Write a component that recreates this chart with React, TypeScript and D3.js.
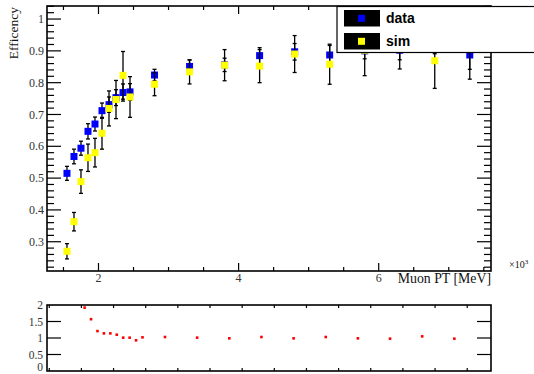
import React from 'react';
import * as d3 from 'd3';

// Bin centres (MeV)
const ptBins = [1550, 1650, 1750, 1850, 1950, 2050, 2150, 2250, 2350, 2450, 2800, 3300, 3800, 4300, 4800, 5300, 5800, 6300, 6800, 7300];
// data efficiency
const dataEff = [0.515, 0.568, 0.594, 0.647, 0.670, 0.712, 0.731, 0.753, 0.769, 0.771, 0.824, 0.851, 0.856, 0.885, 0.897, 0.887, 0.900, 0.902, 0.921, 0.887];
const dataErr = [0.022, 0.023, 0.022, 0.024, 0.022, 0.024, 0.024, 0.025, 0.027, 0.026, 0.018, 0.020, 0.021, 0.025, 0.026, 0.030, 0.025, 0.030, 0.030, 0.045];
// sim efficiency
const simEff = [0.270, 0.363, 0.489, 0.564, 0.580, 0.641, 0.719, 0.747, 0.823, 0.755, 0.795, 0.834, 0.855, 0.852, 0.890, 0.858, 0.902, 0.920, 0.869, 0.905];
const simErr = [0.024, 0.029, 0.037, 0.043, 0.045, 0.050, 0.055, 0.060, 0.075, 0.064, 0.036, 0.038, 0.049, 0.052, 0.058, 0.063, 0.080, 0.077, 0.087, 0.094];
// ratio data/sim
const ratio = [1.92, 1.57, 1.21, 1.14, 1.14, 1.10, 1.01, 1.01, 0.93, 1.02, 1.03, 1.01, 0.99, 1.03, 0.99, 1.03, 0.99, 0.98, 1.05, 0.98];

const yMajor = [0.3, 0.4, 0.5, 0.6, 0.7, 0.8, 0.9, 1.0];
const yLabels = ['0.3', '0.4', '0.5', '0.6', '0.7', '0.8', '0.9', '1'];
const xMajor = [2000, 4000, 6000];
const xLabels = ['2', '4', '6'];
const ratioYMajor = [0, 0.5, 1, 1.5, 2];
const ratioYLabels = ['0', '0.5', '1', '1.5', '2'];

const SERIF = '"Liberation Serif", "DejaVu Serif", serif';
const SANS = '"Liberation Sans", Arial, sans-serif';

export default function App() {
  const x = d3.scaleLinear().domain([1265, 7603]).range([47, 491]);
  const y = d3.scaleLinear().domain([0.208, 1.041]).range([271, 6]);
  const rx = d3.scaleLinear().domain([965, 7870]).range([47, 491]);
  const ry = d3.scaleLinear().domain([0, 2]).range([371, 305]);

  const yMinor = d3.range(11, 53).map((i) => i * 0.02).filter((v) => Math.abs(v * 10 - Math.round(v * 10)) > 1e-6);
  const xMinor = d3.range(3, 16).map((i) => i * 500).filter((v) => v % 2000 !== 0);
  const rxTicks = d3.range(2, 16).map((i) => i * 500);

  const [x0, x1] = x.range();
  const [yb, yt] = y.range();
  const [rx0, rx1] = rx.range();
  const [ryb, ryt] = ry.range();

  const series = [
    { eff: dataEff, err: dataErr, color: '#0000ff' },
    { eff: simEff, err: simErr, color: '#ffff00' },
  ];
  const ms = 7;

  return (
    <svg width={534} height={374} style={{ position: 'absolute', left: 0, top: 0, background: '#fff' }}>
      <rect x={0} y={0} width={534} height={374} fill="#fff" />
      {/* main ticks */}
      <g stroke="#000" strokeWidth={1.2}>
        {yMajor.map((v) => (
          <g key={'ym' + v}>
            <line x1={x0} x2={x0 + 14} y1={y(v)} y2={y(v)} />
            <line x1={x1} x2={x1 - 14} y1={y(v)} y2={y(v)} />
          </g>
        ))}
        {yMinor.map((v) => (
          <g key={'yn' + v}>
            <line x1={x0} x2={x0 + 7} y1={y(v)} y2={y(v)} />
            <line x1={x1} x2={x1 - 7} y1={y(v)} y2={y(v)} />
          </g>
        ))}
        {xMajor.map((v) => (
          <g key={'xm' + v}>
            <line x1={x(v)} x2={x(v)} y1={yb} y2={yb - 8} />
            <line x1={x(v)} x2={x(v)} y1={yt} y2={yt + 8} />
          </g>
        ))}
        {xMinor.map((v) => (
          <g key={'xn' + v}>
            <line x1={x(v)} x2={x(v)} y1={yb} y2={yb - 4} />
            <line x1={x(v)} x2={x(v)} y1={yt} y2={yt + 4} />
          </g>
        ))}
      </g>
      <rect x={x0} y={yt} width={x1 - x0} height={yb - yt} fill="none" stroke="#000" strokeWidth={1.6} />
      {/* tick labels */}
      <g fontFamily={SERIF} fontSize={12} fill="#333">
        {yMajor.map((v, i) => (
          <text key={'yl' + v} x={44} y={y(v)} dy="0.35em" textAnchor="end">{yLabels[i]}</text>
        ))}
        {xMajor.map((v, i) => (
          <text key={'xl' + v} x={x(v)} y={282} textAnchor="middle">{xLabels[i]}</text>
        ))}
      </g>
      <text x={491} y={283} textAnchor="end" fontFamily={SERIF} fontSize={13.8} fill="#111">Muon PT [MeV]</text>
      <text x={509} y={268} fontFamily={SERIF} fontSize={10} fill="#111">×10<tspan dy={-4} fontSize={7}>3</tspan></text>
      <text transform="translate(18,7) rotate(-90)" textAnchor="end" fontFamily={SERIF} fontSize={13.5} fill="#111">Efficency</text>

      {/* points */}
      {series.map((s, si) => (
        <g key={'s' + si}>
          <g stroke="#000" strokeWidth={1.3}>
            {ptBins.map((b, i) => {
              const cx = x(b);
              const lo = y(s.eff[i] - s.err[i]);
              const hi = y(s.eff[i] + s.err[i]);
              return (
                <g key={i}>
                  <line x1={cx} x2={cx} y1={lo} y2={hi} />
                  <line x1={cx - 2} x2={cx + 2} y1={lo} y2={lo} />
                  <line x1={cx - 2} x2={cx + 2} y1={hi} y2={hi} />
                </g>
              );
            })}
          </g>
          {ptBins.map((b, i) => (
            <rect key={'m' + i} x={x(b) - ms / 2} y={y(s.eff[i]) - ms / 2} width={ms} height={ms} fill={s.color} />
          ))}
        </g>
      ))}

      {/* legend */}
      <rect x={337} y={6.5} width={220} height={46} fill="#fff" stroke="#000" strokeWidth={1.2} />
      <rect x={344} y={10} width={36} height={16.5} fill="#000" />
      <rect x={358} y={14.8} width={7} height={7} fill="#0000ff" />
      <rect x={344} y={33} width={36} height={16.5} fill="#000" />
      <rect x={358} y={37.8} width={7} height={7} fill="#ffff00" />
      <text x={386} y={23} fontFamily={SANS} fontWeight="bold" fontSize={14} fill="#000">data</text>
      <text x={386} y={46} fontFamily={SANS} fontWeight="bold" fontSize={14} fill="#000">sim</text>

      {/* ratio pad */}
      <g stroke="#000" strokeWidth={1.2}>
        {ratioYMajor.filter((v) => v > 0 && v < 2).map((v) => (
          <g key={'ry' + v}>
            <line x1={rx0} x2={rx0 + 14} y1={ry(v)} y2={ry(v)} />
            <line x1={rx1} x2={rx1 - 14} y1={ry(v)} y2={ry(v)} />
          </g>
        ))}
        {rxTicks.map((v) => (
          <g key={'rx' + v}>
            <line x1={rx(v)} x2={rx(v)} y1={ryb} y2={ryb - 3} />
            <line x1={rx(v)} x2={rx(v)} y1={ryt} y2={ryt + 3} />
          </g>
        ))}
      </g>
      <rect x={rx0} y={ryt} width={rx1 - rx0} height={ryb - ryt} fill="none" stroke="#000" strokeWidth={1.6} />
      <g fontFamily={SERIF} fontSize={11.5} fill="#333">
        {ratioYMajor.map((v, i) => (
          <text key={'rl' + v} x={43} y={Math.min(ry(v), 366.5)} dy="0.35em" textAnchor="end">{ratioYLabels[i]}</text>
        ))}
      </g>
      {ptBins.map((b, i) => (
        <rect key={'r' + i} x={rx(b) - 1.3} y={ry(ratio[i]) - 1.3} width={2.6} height={2.6} fill="#ff0000" />
      ))}
    </svg>
  );
}
